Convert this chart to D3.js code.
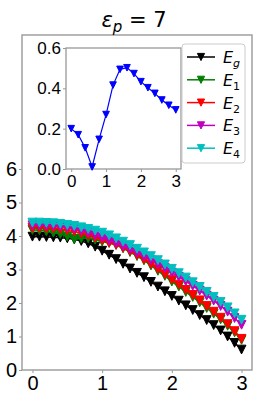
<!DOCTYPE html>
<html>
<head>
<meta charset="utf-8">
<script src="https://cdn.jsdelivr.net/npm/d3@7"></script>
<style>
  body { margin: 0; background: #fff; }
  svg { display: block; font-family: "DejaVu Sans", sans-serif; }
  .tick text { fill: #000; }
</style>
</head>
<body>
<svg id="chart" width="258" height="403"></svg>
<script>
// momentum values along the path
var kx = [0.0, 0.1, 0.2, 0.3, 0.4, 0.5, 0.6, 0.7, 0.8, 0.9, 1.0,
          1.1, 1.2, 1.3, 1.4, 1.5, 1.6, 1.7, 1.8, 1.9, 2.0,
          2.1, 2.2, 2.3, 2.4, 2.5, 2.6, 2.7, 2.8, 2.9, 3.0];

// energy bands
var Eg = [3.98, 3.98, 3.97, 3.96, 3.95, 3.93, 3.90, 3.85, 3.78, 3.68, 3.56,
          3.44, 3.31, 3.17, 3.03, 2.90, 2.77, 2.63, 2.49, 2.35, 2.21,
          2.07, 1.93, 1.79, 1.64, 1.49, 1.34, 1.18, 1.00, 0.81, 0.61];
var E1 = [4.18, 4.17, 4.14, 4.10, 4.06, 3.99, 3.91, 3.93, 3.93, 3.89, 3.83,
          3.79, 3.73, 3.63, 3.52, 3.40, 3.27, 3.12, 2.96, 2.81, 2.64,
          2.49, 2.33, 2.18, 2.02, 1.85, 1.68, 1.51, 1.32, 1.12, 0.90];
var E2 = [4.24, 4.24, 4.23, 4.22, 4.20, 4.17, 4.13, 4.08, 4.02, 3.95, 3.87,
          3.80, 3.74, 3.65, 3.55, 3.43, 3.30, 3.16, 3.01, 2.86, 2.70,
          2.55, 2.39, 2.24, 2.08, 1.91, 1.74, 1.56, 1.37, 1.16, 0.93];
var E3 = [4.32, 4.32, 4.31, 4.30, 4.28, 4.25, 4.21, 4.16, 4.10, 4.03, 3.95,
          3.87, 3.79, 3.70, 3.60, 3.50, 3.39, 3.28, 3.16, 3.04, 2.91,
          2.78, 2.65, 2.51, 2.37, 2.22, 2.07, 1.91, 1.74, 1.55, 1.35];
var E4 = [4.40, 4.40, 4.39, 4.38, 4.36, 4.33, 4.30, 4.26, 4.21, 4.16, 4.10,
          4.02, 3.93, 3.83, 3.73, 3.62, 3.51, 3.40, 3.28, 3.15, 3.02,
          2.89, 2.76, 2.62, 2.48, 2.33, 2.18, 2.03, 1.87, 1.69, 1.50];

// inset: gap E1 - Eg
var kxInset = [0.0, 0.2, 0.4, 0.6, 0.8, 1.0, 1.2, 1.4, 1.6, 1.8, 2.0, 2.2, 2.4, 2.6, 2.8, 3.0];
var gap = [0.20, 0.17, 0.105, 0.01, 0.147, 0.27, 0.416, 0.494, 0.502, 0.473,
           0.433, 0.403, 0.375, 0.342, 0.316, 0.293];

var mainXTicks = [0, 1, 2, 3];
var mainYTicks = [0, 1, 2, 3, 4, 5, 6];
var insetXTicks = [0, 1, 2, 3];
var insetYTicks = [0.0, 0.2, 0.4, 0.6];

var series = [
  { sub: "g", ys: Eg, color: "#000000" },
  { sub: "1", ys: E1, color: "#008000" },
  { sub: "2", ys: E2, color: "#ff0000" },
  { sub: "3", ys: E3, color: "#bf00bf" },
  { sub: "4", ys: E4, color: "#00bfbf" }
];

var svg = d3.select("#chart");
var spine = "#999";

// triangle_down marker path, s = half size
function tri(s) {
  return "M" + (-s) + "," + (-s) + "L" + s + "," + (-s) + "L0," + s + "Z";
}

// ---- main axes ----
var m = { left: 22, right: 252, top: 35, bottom: 370 };
var x = d3.scaleLinear().domain([-0.15, 3.15]).range([m.left, m.right]);
var y = d3.scaleLinear().domain([0, 10]).range([m.bottom, m.top]);

var line = d3.line()
    .x(function(d) { return x(d[0]); })
    .y(function(d) { return y(d[1]); });

series.forEach(function(s) {
  var pts = kx.map(function(k, i) { return [k, s.ys[i]]; });
  var g = svg.append("g");
  g.append("path")
      .attr("d", line(pts))
      .attr("fill", "none")
      .attr("stroke", s.color)
      .attr("stroke-width", 1.5);
  g.selectAll("path.mk")
      .data(pts)
      .enter().append("path")
      .attr("class", "mk")
      .attr("d", tri(4.4))
      .attr("transform", function(d) { return "translate(" + x(d[0]) + "," + y(d[1]) + ")"; })
      .attr("fill", s.color)
      .attr("stroke", s.color)
      .attr("stroke-width", 1);
});

svg.append("rect")
    .attr("x", m.left).attr("y", m.top)
    .attr("width", m.right - m.left).attr("height", m.bottom - m.top)
    .attr("fill", "none").attr("stroke", spine).attr("stroke-width", 1.4);

var xAxis = svg.append("g")
    .attr("transform", "translate(0," + m.bottom + ")")
    .call(d3.axisBottom(x).tickValues(mainXTicks).tickFormat(d3.format("d")).tickSize(3).tickPadding(3));
var yAxis = svg.append("g")
    .attr("transform", "translate(" + m.left + ",0)")
    .call(d3.axisLeft(y).tickValues(mainYTicks).tickFormat(d3.format("d")).tickSize(3).tickPadding(2));
[xAxis, yAxis].forEach(function(a) {
  a.select(".domain").remove();
  a.selectAll(".tick line").attr("stroke", spine);
  a.selectAll(".tick text").style("font-size", "20px");
});

// ---- title ----
var title = svg.append("text")
    .attr("x", 134).attr("y", 27)
    .attr("text-anchor", "middle")
    .style("font-size", "21px");
title.append("tspan").style("font-style", "italic").text("ε");
title.append("tspan").style("font-style", "italic").style("font-size", "15px").attr("dy", 5).text("p");
title.append("tspan").attr("dy", -5).text(" = 7");

// ---- inset ----
var ins = { left: 66, right: 181, top: 48, bottom: 169 };
var xi = d3.scaleLinear().domain([-0.15, 3.15]).range([ins.left, ins.right]);
var yi = d3.scaleLinear().domain([0, 0.6]).range([ins.bottom, ins.top]);

svg.append("rect")
    .attr("x", ins.left).attr("y", ins.top)
    .attr("width", ins.right - ins.left).attr("height", ins.bottom - ins.top)
    .attr("fill", "#fff").attr("stroke", spine).attr("stroke-width", 1.3);

var insPts = kxInset.map(function(k, i) { return [k, gap[i]]; });
svg.append("path")
    .attr("d", d3.line().x(function(d) { return xi(d[0]); }).y(function(d) { return yi(d[1]); })(insPts))
    .attr("fill", "none").attr("stroke", "#0000ff").attr("stroke-width", 1.2);
svg.selectAll("path.imk")
    .data(insPts)
    .enter().append("path")
    .attr("class", "imk")
    .attr("d", tri(3.3))
    .attr("transform", function(d) { return "translate(" + xi(d[0]) + "," + yi(d[1]) + ")"; })
    .attr("fill", "#0000ff").attr("stroke", "#0000ff").attr("stroke-width", 1);

var xiAxis = svg.append("g")
    .attr("transform", "translate(0," + ins.bottom + ")")
    .call(d3.axisBottom(xi).tickValues(insetXTicks).tickFormat(d3.format("d")).tickSize(3).tickPadding(3));
var yiAxis = svg.append("g")
    .attr("transform", "translate(" + ins.left + ",0)")
    .call(d3.axisLeft(yi).tickValues(insetYTicks).tickFormat(d3.format(".1f")).tickSize(3).tickPadding(2));
[xiAxis, yiAxis].forEach(function(a) {
  a.select(".domain").remove();
  a.selectAll(".tick line").attr("stroke", spine);
  a.selectAll(".tick text").style("font-size", "17px");
});

// ---- legend ----
var lg = { x: 182, y: 44, w: 63, h: 119, row: 22.8 };
svg.append("rect")
    .attr("x", lg.x).attr("y", lg.y).attr("width", lg.w).attr("height", lg.h)
    .attr("rx", 3).attr("fill", "#fff").attr("stroke", "#ccc").attr("stroke-width", 1);

var items = svg.selectAll("g.leg")
    .data(series)
    .enter().append("g")
    .attr("class", "leg")
    .attr("transform", function(d, i) { return "translate(" + lg.x + "," + (lg.y + 13 + i * lg.row) + ")"; });
items.append("line")
    .attr("x1", 5).attr("x2", 33)
    .attr("stroke", function(d) { return d.color; }).attr("stroke-width", 1.5);
items.append("path")
    .attr("d", tri(3.6))
    .attr("transform", "translate(19,0)")
    .attr("fill", function(d) { return d.color; })
    .attr("stroke", function(d) { return d.color; });
var lt = items.append("text")
    .attr("x", 41).attr("y", 6)
    .style("font-size", "16px");
lt.append("tspan").style("font-style", "italic").text("E");
lt.append("tspan")
    .attr("dy", 4)
    .style("font-size", "11px")
    .style("font-style", function(d) { return d.sub === "g" ? "italic" : "normal"; })
    .text(function(d) { return d.sub; });
</script>
</body>
</html>
